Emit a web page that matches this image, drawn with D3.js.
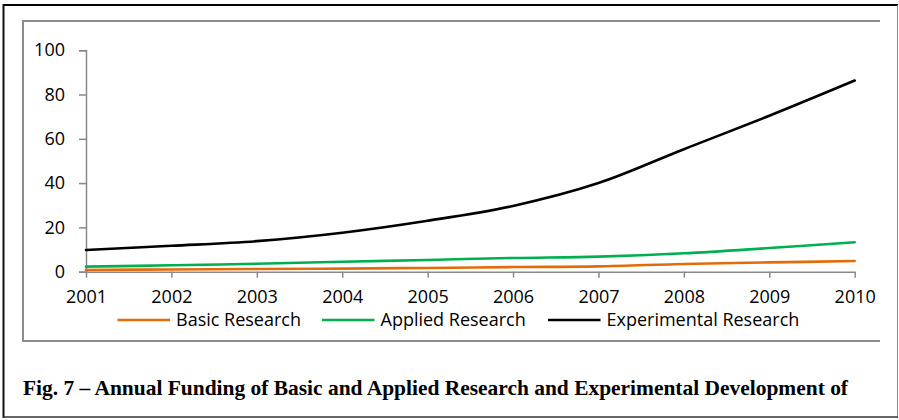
<!DOCTYPE html>
<html>
<head>
<meta charset="utf-8">
<script src="https://cdn.jsdelivr.net/npm/d3@7"></script>
<style>
  html, body { margin: 0; padding: 0; background: #fff; }
  svg { display: block; }
</style>
</head>
<body>
<svg id="chart" width="899" height="420"></svg>
<script>
const years = [2001, 2002, 2003, 2004, 2005, 2006, 2007, 2008, 2009, 2010];
const basicResearch = [0.8, 1.0, 1.2, 1.4, 1.7, 2.1, 2.4, 3.5, 4.2, 4.8];
const appliedResearch = [2.3, 2.9, 3.6, 4.5, 5.3, 6.2, 6.8, 8.3, 10.7, 13.3];
const experimentalResearch = [9.8, 11.7, 13.8, 17.6, 23.0, 29.7, 40.0, 55.3, 70.4, 86.3];
const yTicks = [0, 20, 40, 60, 80, 100];
const seriesNames = ["Basic Research", "Applied Research", "Experimental Research"];
const caption = "Fig. 7 \u2013 Annual Funding of Basic and Applied Research and Experimental Development of";

const colors = ["#E36C0A", "#00B050", "#000000"];
const seriesData = [basicResearch, appliedResearch, experimentalResearch];

const svg = d3.select("#chart");
const axisColor = "#898989";
const font = "'Open Sans', sans-serif";

// outer frame
svg.append("line").attr("x1", 3).attr("x2", 898).attr("y1", 5).attr("y2", 5)
  .attr("stroke", "#000").attr("stroke-width", 2);
svg.append("line").attr("x1", 3.5).attr("x2", 3.5).attr("y1", 4).attr("y2", 418)
  .attr("stroke", "#111").attr("stroke-width", 2);
svg.append("line").attr("x1", 897.5).attr("x2", 897.5).attr("y1", 5).attr("y2", 418)
  .attr("stroke", "#8a8a8a").attr("stroke-width", 1);
svg.append("line").attr("x1", 3).attr("x2", 898).attr("y1", 417).attr("y2", 417)
  .attr("stroke", "#333").attr("stroke-width", 1.5);

// inner chart frame (gray)
svg.append("path")
  .attr("d", "M880,21 L23,21 L23,341 L880,341")
  .attr("fill", "none").attr("stroke", "#8c8c8c").attr("stroke-width", 2);

const x = d3.scalePoint().domain(years).range([86, 854.7]);
const y = d3.scaleLinear().domain([0, 100]).range([271.7, 50.2]);

// y axis
const yAxis = d3.axisLeft(y).tickValues(yTicks).tickSize(7).tickPadding(14).tickFormat(d3.format("d"));
const gy = svg.append("g").attr("transform", "translate(86,0)").call(yAxis);
gy.select(".domain").attr("stroke", axisColor).attr("stroke-width", 1.5);
gy.selectAll(".tick line").attr("stroke", axisColor).attr("stroke-width", 1.5);
gy.selectAll(".tick text").attr("fill", "#000").style("font-family", font).style("font-size", "18px");

// x axis
const xAxis = d3.axisBottom(x).tickSize(6).tickPadding(13).tickSizeOuter(0);
const gx = svg.append("g").attr("transform", "translate(0,271.7)").call(xAxis);
gx.select(".domain").attr("stroke", axisColor).attr("stroke-width", 1.5);
gx.selectAll(".tick line").attr("stroke", axisColor).attr("stroke-width", 1.5);
gx.selectAll(".tick text").attr("fill", "#000").style("font-family", font).style("font-size", "18px");

// lines
const line = d3.line()
  .x((d, i) => x(years[i]))
  .y(d => y(d))
  .curve(d3.curveCatmullRom.alpha(0.5));

seriesData.forEach((vals, k) => {
  svg.append("path")
    .datum(vals)
    .attr("d", line)
    .attr("fill", "none")
    .attr("stroke", colors[k])
    .attr("stroke-width", 2.6)
    .attr("stroke-linecap", "round");
});

// legend
const legendX = [117.5, 322, 548];
seriesNames.forEach((name, k) => {
  const g = svg.append("g").attr("transform", `translate(${legendX[k]},320)`);
  g.append("line").attr("x1", 0).attr("x2", 52.5).attr("y1", 0).attr("y2", 0)
    .attr("stroke", colors[k]).attr("stroke-width", 2.6);
  g.append("text").attr("x", 58.5).attr("y", 6.3)
    .style("font-family", font).style("font-size", "18px").attr("fill", "#000")
    .text(name);
});

// caption
svg.append("text")
  .attr("x", 23).attr("y", 394.5)
  .attr("textLength", 825).attr("lengthAdjust", "spacingAndGlyphs")
  .style("font-family", "'Liberation Serif', 'Times New Roman', serif")
  .style("font-weight", "bold").style("font-size", "21.5px")
  .attr("fill", "#000")
  .text(caption);
</script>
</body>
</html>
